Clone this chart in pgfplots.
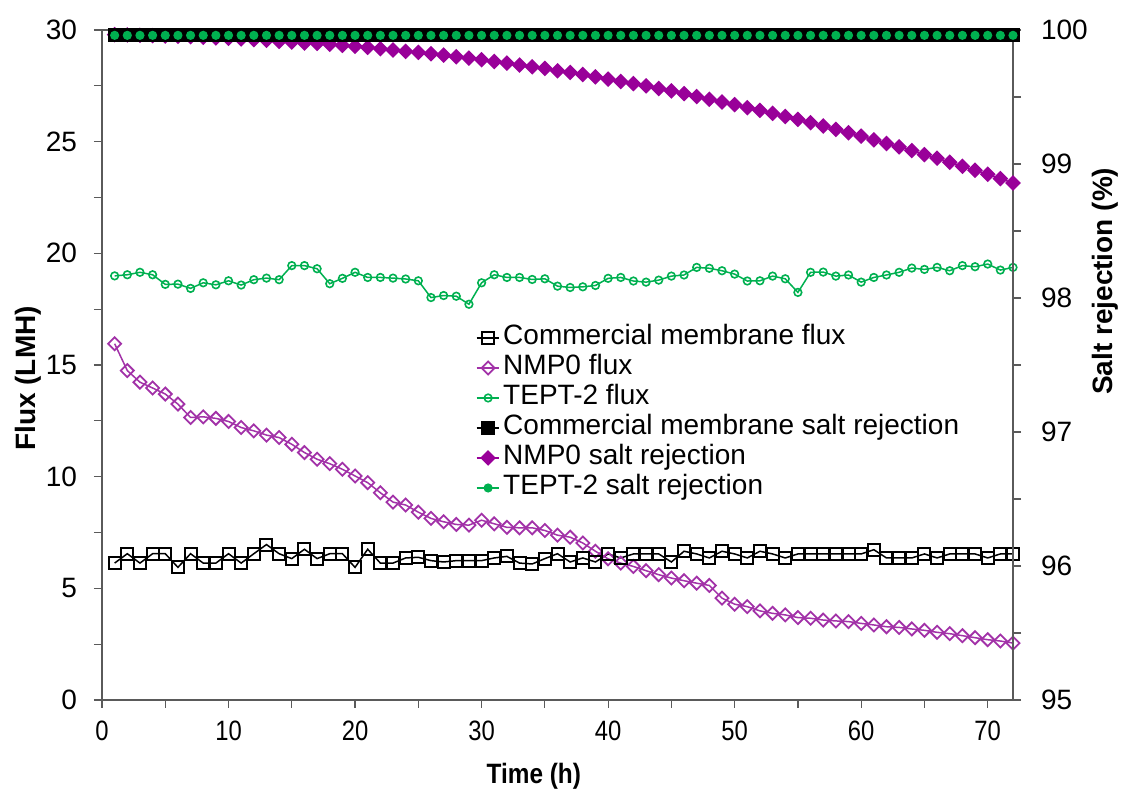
\documentclass[border=0pt]{standalone}
\usepackage{pgfplots}
\pgfplotsset{compat=1.18}
\usepackage{pgfplotstable}
\usepackage{fontspec}
\setmainfont{Liberation Sans}
\definecolor{cpurple}{HTML}{990099}
\definecolor{cpurpleL}{HTML}{A232A8}
\definecolor{cgreen}{HTML}{00B050}
\definecolor{caxis}{HTML}{5A5A5A}

\pgfplotstableread{
x cf nf tf nr
1 6.13 15.95 18.99 99.965
2 6.55 14.75 19.04 99.963
3 6.13 14.23 19.15 99.960
4 6.55 13.97 19.04 99.958
5 6.55 13.70 18.61 99.955
6 5.94 13.25 18.62 99.953
7 6.55 12.65 18.43 99.950
8 6.13 12.68 18.68 99.945
9 6.13 12.61 18.59 99.940
10 6.55 12.47 18.77 99.938
11 6.13 12.20 18.58 99.933
12 6.55 12.05 18.82 99.928
13 6.96 11.86 18.89 99.923
14 6.55 11.75 18.82 99.915
15 6.33 11.45 19.45 99.910
16 6.75 11.08 19.45 99.903
17 6.33 10.78 19.31 99.900
18 6.55 10.58 18.64 99.893
19 6.55 10.33 18.88 99.885
20 5.94 10.03 19.15 99.878
21 6.75 9.73 18.92 99.870
22 6.13 9.28 18.92 99.860
23 6.13 8.86 18.89 99.850
24 6.36 8.73 18.85 99.840
25 6.39 8.41 18.77 99.833
26 6.24 8.13 18.02 99.823
27 6.18 7.98 18.11 99.813
28 6.24 7.86 18.08 99.800
29 6.24 7.83 17.72 99.790
30 6.24 8.05 18.68 99.778
31 6.36 7.89 19.04 99.765
32 6.43 7.73 18.92 99.753
33 6.13 7.71 18.92 99.738
34 6.09 7.71 18.83 99.725
35 6.33 7.59 18.86 99.713
36 6.55 7.38 18.53 99.695
37 6.18 7.29 18.47 99.683
38 6.36 7.03 18.50 99.668
39 6.18 6.66 18.56 99.650
40 6.54 6.32 18.88 99.633
41 6.36 6.13 18.92 99.615
42 6.54 5.98 18.76 99.600
43 6.54 5.79 18.71 99.583
44 6.54 5.61 18.80 99.563
45 6.18 5.46 18.98 99.545
46 6.66 5.34 19.03 99.525
47 6.54 5.23 19.37 99.503
48 6.36 5.13 19.33 99.483
49 6.66 4.56 19.22 99.463
50 6.54 4.29 19.07 99.443
51 6.36 4.18 18.76 99.420
52 6.66 3.99 18.77 99.400
53 6.54 3.88 18.98 99.378
54 6.36 3.81 18.86 99.355
55 6.54 3.69 18.25 99.333
56 6.54 3.66 19.15 99.308
57 6.54 3.58 19.16 99.283
58 6.54 3.54 18.98 99.258
59 6.54 3.51 19.03 99.233
60 6.54 3.43 18.71 99.208
61 6.73 3.36 18.92 99.180
62 6.36 3.28 19.03 99.153
63 6.36 3.25 19.15 99.128
64 6.36 3.18 19.34 99.100
65 6.54 3.12 19.28 99.070
66 6.36 3.03 19.37 99.043
67 6.54 2.97 19.22 99.013
68 6.54 2.88 19.45 98.983
69 6.54 2.79 19.40 98.953
70 6.36 2.70 19.52 98.923
71 6.54 2.64 19.25 98.891
72 6.54 2.55 19.37 98.858
}\data

\pgfplotstableread{
x cr tr
1 99.96 99.96
2 99.96 99.96
3 99.96 99.96
4 99.96 99.96
5 99.96 99.96
6 99.96 99.96
7 99.96 99.96
8 99.96 99.96
9 99.96 99.96
10 99.96 99.96
11 99.96 99.96
12 99.96 99.96
13 99.96 99.96
14 99.96 99.96
15 99.96 99.96
16 99.96 99.96
17 99.96 99.96
18 99.96 99.96
19 99.96 99.96
20 99.96 99.96
21 99.96 99.96
22 99.96 99.96
23 99.96 99.96
24 99.96 99.96
25 99.96 99.96
26 99.96 99.96
27 99.96 99.96
28 99.96 99.96
29 99.96 99.96
30 99.96 99.96
31 99.96 99.96
32 99.96 99.96
33 99.96 99.96
34 99.96 99.96
35 99.96 99.96
36 99.96 99.96
37 99.96 99.96
38 99.96 99.96
39 99.96 99.96
40 99.96 99.96
41 99.96 99.96
42 99.96 99.96
43 99.96 99.96
44 99.96 99.96
45 99.96 99.96
46 99.96 99.96
47 99.96 99.96
48 99.96 99.96
49 99.96 99.96
50 99.96 99.96
51 99.96 99.96
52 99.96 99.96
53 99.96 99.96
54 99.96 99.96
55 99.96 99.96
56 99.96 99.96
57 99.96 99.96
58 99.96 99.96
59 99.96 99.96
60 99.96 99.96
61 99.96 99.96
62 99.96 99.96
63 99.96 99.96
64 99.96 99.96
65 99.96 99.96
66 99.96 99.96
67 99.96 99.96
68 99.96 99.96
69 99.96 99.96
70 99.96 99.96
71 99.96 99.96
72 99.96 99.96
}\rej

\begin{document}
\begin{tikzpicture}[font=\fontsize{14}{16.8}\selectfont]
\pgfplotsset{
  common/.style={
    width=455.5pt, height=335pt, scale only axis,
    xmin=0, xmax=72, clip=false,
    axis line style={caxis, line width=0.6pt},
    tick style={caxis, line width=0.6pt},
    tick align=outside,
    major tick length=4pt, minor tick length=4pt,
    /pgf/number format/assume math mode=true,
    tick label style={font=\fontsize{14}{16.8}\selectfont},
  },
  csf/.style={black, line width=0.75pt, mark=square, mark size=3pt, mark options={line width=1pt}},
  nsf/.style={cpurpleL, line width=0.75pt, mark=square, mark size=2.3pt, mark options={rotate=45, line width=0.9pt}},
  tsf/.style={cgreen, line width=0.75pt, mark=o, mark size=1.9pt, mark options={line width=0.8pt}},
  csr/.style={black, line width=0.75pt, mark=square*, mark size=3.1pt},
  nsr/.style={cpurple, line width=0.75pt, mark=square*, mark size=2.4pt, mark options={rotate=45}},
  tsr/.style={cgreen, line width=0.75pt, mark=*, mark size=1.9pt},
}
\begin{axis}[common, name=ax,
  ymin=0, ymax=30, ytick={0,5,...,30}, minor y tick num=1,
  xtick={0,10,...,70}, minor x tick num=1,
  tick pos=left,
  yticklabel shift=5pt, xticklabel shift=3pt,
  xticklabel={\scalebox{0.85}[1]{\pgfmathprintnumber{\tick}}},
  xlabel={\scalebox{0.87}[1]{\bfseries Time (h)}}, ylabel={\bfseries Flux (LMH)},
  every axis x label/.style={at={(rel axis cs:0.474,0)}, yshift=-38pt, anchor=center},
  every axis y label/.style={at={(rel axis cs:0,0.48)}, xshift=-37pt, rotate=90, anchor=center},
]
\addplot[nsf] table[x=x, y=nf] {\data};
\addplot[tsf] table[x=x, y=tf] {\data};
\addplot[csf] table[x=x, y=cf] {\data};
\end{axis}
\begin{axis}[common,
  ymin=95, ymax=100, ytick={95,96,...,100}, minor y tick num=1,
  axis x line=none, axis y line*=right,
  yticklabel shift=6.5pt,
  ylabel={\bfseries Salt rejection (\%)},
  every axis y label/.style={at={(rel axis cs:1,0.625)}, xshift=46pt, rotate=90, anchor=center},
  legend style={at={(rel axis cs:0.4105,0.5627)}, anchor=north west, draw=none, fill=none,
    inner sep=0pt, outer sep=0pt, row sep=0pt, column sep=1pt,
    nodes={inner sep=0.5pt, text height=10.5pt, text depth=3.5pt},
    font=\fontsize{14}{16.8}\selectfont},
  legend cell align=left,
  legend image code/.code={\draw[mark repeat=2,mark phase=2] plot coordinates {(0cm,0cm) (0.2cm,0cm) (0.4cm,0cm)};},
]
\addlegendimage{csf}
\addlegendentry{Commercial membrane flux}
\addlegendimage{nsf}
\addlegendentry{NMP0 flux}
\addlegendimage{tsf}
\addlegendentry{TEPT-2 flux}
\addlegendimage{csr}
\addlegendentry{Commercial membrane salt rejection}
\addlegendimage{nsr}
\addlegendentry{NMP0 salt rejection}
\addlegendimage{tsr}
\addlegendentry{TEPT-2 salt rejection}
\addplot[nsr, forget plot] table[x=x, y=nr] {\data};
\addplot[csr, forget plot] table[x=x, y=cr] {\rej};
\addplot[tsr, forget plot] table[x=x, y=tr] {\rej};
\end{axis}
\pgfresetboundingbox
\path[use as bounding box] ([shift={(-51pt,-47pt)}]ax.south west) rectangle ([shift={(56pt,15pt)}]ax.north east);
\end{tikzpicture}
\end{document}
